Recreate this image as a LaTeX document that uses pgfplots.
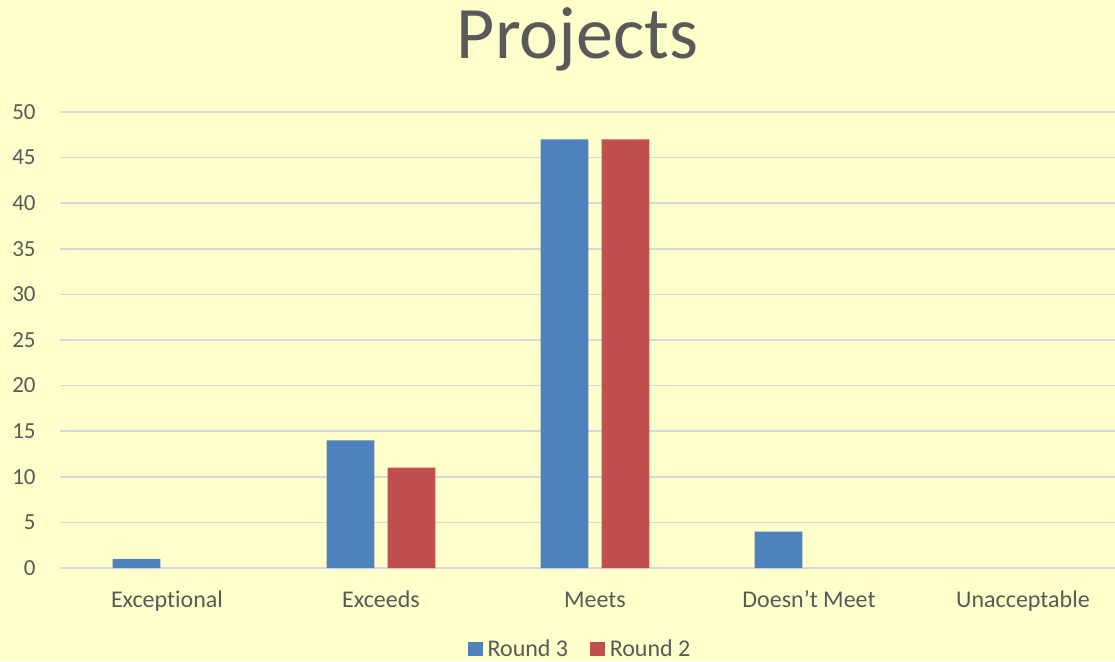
\documentclass[border=0pt]{standalone}
\usepackage{fontspec}
\setmainfont{Carlito}[Ligatures=NoCommon]
\usepackage{pgfplots}
\pgfplotsset{compat=1.18}

\definecolor{chartbg}{HTML}{FFFFCC}
\definecolor{gridgray}{HTML}{D9D9D9}
\definecolor{textgray}{HTML}{595959}
\definecolor{roundthree}{HTML}{4F81BD}
\definecolor{roundtwo}{HTML}{C0504D}

\begin{document}
\begin{tikzpicture}
    % page: 1115 x 661 px at 0.5pt per px
    \fill[chartbg] (0,0) rectangle (557.5pt,330.5pt);
    \useasboundingbox (0,0) rectangle (557.5pt,330.5pt);

    \begin{axis}[
        at={(30pt,46.5pt)}, anchor=south west,
        scale only axis,
        width=527.5pt, height=228pt,
        xmin=-0.5, xmax=4.43,
        ymin=0, ymax=50,
        ytick={0,5,...,50},
        xtick={0,1,2,3,4},
        xticklabels={Exceptional,Exceeds,Meets,Doesn’t Meet,Unacceptable},
        axis line style={draw=none},
        major tick length=0pt,
        ymajorgrids,
        grid style={gridgray, line width=0.8pt},
        extra y ticks={0},
        extra y tick style={grid style={gridgray, line width=1pt}, yticklabels={}},
        /pgf/number format/assume math mode=true,
        tick label style={font=\fontsize{11.5}{13}\selectfont, text=textgray},
        yticklabel style={anchor=east, inner sep=0pt, xshift=-12pt},
        xticklabel style={anchor=base, inner sep=0pt, yshift=-19.5pt,
            font=\fontsize{12}{14}\selectfont},
        ybar, bar width=0.224,
        legend columns=2,
        legend style={at={(0.494,-0.178)}, anchor=center,
            draw=none, fill=none, inner sep=0pt,
            font=\fontsize{12}{14}\selectfont, text=textgray,
            /tikz/every odd column/.append style={column sep=0.5pt},
            /tikz/every even column/.append style={column sep=9pt}},
        legend image code/.code={\fill[#1] (0pt,-3.6pt) rectangle (7.3pt,3.7pt);},
    ]
        % zero values are left out, as in the original nothing is drawn for them
        \addplot+[bar shift=-0.1425, fill=roundthree, draw=none]
            coordinates {(0,1) (1,14) (2,47) (3,4)};
        \addlegendentry{Round 3}
        \addplot+[bar shift=0.1425, fill=roundtwo, draw=none]
            coordinates {(1,11) (2,47)};
        \addlegendentry{Round 2}
    \end{axis}

    \node[anchor=base, text=textgray, font=\fontsize{37}{40}\selectfont, inner sep=0pt]
        at (288.75pt,301.5pt) {Projects};
\end{tikzpicture}
\end{document}
